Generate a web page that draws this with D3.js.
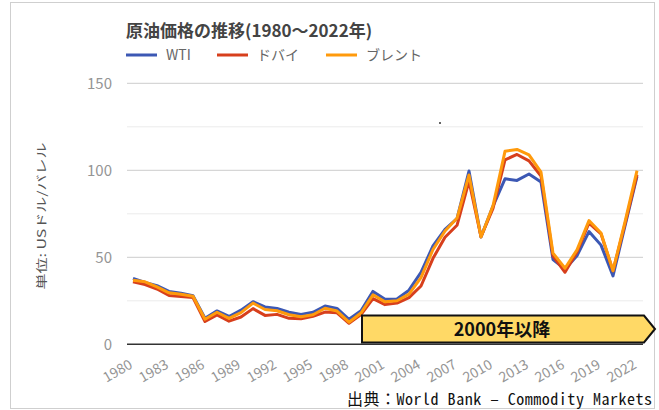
<!DOCTYPE html>
<html>
<head>
<meta charset="utf-8">
<script src="https://cdn.jsdelivr.net/npm/d3@7"></script>
<style>
  body { margin: 0; background: #fff; }
  svg { display: block; }
</style>
</head>
<body>
<div id="chart"></div>
<script>
// ---- data (USD / barrel, annual average) ----
var years = d3.range(1980, 2023);
var seriesNames = ["WTI", "ドバイ", "ブレント"];
var tickYears = [1980, 1983, 1986, 1989, 1992, 1995, 1998, 2001, 2004, 2007, 2010, 2013, 2016, 2019, 2022];
var yTicks = [0, 50, 100, 150];
var yMinor = [25, 75, 125];

var wti = [37.9, 35.5, 33.7, 30.4, 29.4, 27.9, 15.0, 19.2, 16.0, 19.6, 24.5, 21.5, 20.6, 18.4, 17.2, 18.4, 22.0, 20.6, 14.4, 19.3,
  30.4, 25.9, 26.1, 31.1, 41.4, 56.5, 66.1, 72.3, 99.6, 61.7, 79.4, 95.1, 94.2, 97.9, 93.3, 48.7, 43.2, 50.9, 64.8, 57.0, 39.3, 68.0, 96.5];
var dubai = [35.9, 34.3, 31.8, 28.1, 27.5, 26.9, 13.1, 16.9, 13.3, 15.7, 20.5, 16.6, 17.2, 14.9, 14.7, 16.1, 18.5, 18.1, 12.1, 17.1,
  26.2, 22.8, 23.7, 26.8, 33.5, 49.4, 61.5, 68.4, 93.8, 61.8, 78.1, 106.0, 109.1, 105.4, 96.7, 50.8, 41.4, 53.1, 69.7, 63.5, 42.2, 69.2, 97.5];
var brent = [36.8, 35.9, 33.0, 29.6, 28.8, 27.6, 14.4, 18.4, 14.9, 18.2, 23.7, 20.0, 19.3, 17.0, 15.8, 17.0, 20.7, 19.1, 12.7, 18.0,
  28.5, 24.4, 25.0, 28.8, 38.3, 54.5, 65.1, 72.4, 97.3, 61.7, 79.6, 110.9, 112.0, 108.9, 98.9, 52.4, 43.7, 54.3, 71.1, 64.0, 42.3, 70.4, 99.8];

var colors = ["#3c58b4", "#d73f1c", "#ff9a0c"];

/* -----------------------
layout
------------------------- */
var width = 659, height = 410;
var plotL = 127, plotR = 643, plotT = 83.3, plotB = 344.3;

var svg = d3.select("#chart").append("svg")
  .attr("width", width)
  .attr("height", height);

var font = "'Noto Sans CJK JP', 'Noto Sans', sans-serif";

// frame
svg.append("rect")
  .attr("x", 10.5).attr("y", 2.5)
  .attr("width", 644).attr("height", 406)
  .attr("fill", "#fff")
  .attr("stroke", "#cfcfcf");

var x = d3.scalePoint().domain(years).range([plotL, plotR]).padding(0.5);
var y = d3.scaleLinear().domain([0, 150]).range([plotB, plotT]);

// grid
svg.append("g").selectAll("line").data(yMinor).join("line")
  .attr("x1", plotL).attr("x2", plotR)
  .attr("y1", d => y(d)).attr("y2", d => y(d))
  .attr("stroke", "#ececec").attr("stroke-width", 1);

svg.append("g").selectAll("line").data(yTicks.filter(d => d > 0)).join("line")
  .attr("x1", plotL).attr("x2", plotR)
  .attr("y1", d => y(d)).attr("y2", d => y(d))
  .attr("stroke", "#cccccc").attr("stroke-width", 1);

// y axis labels
var yAxis = svg.append("g")
  .attr("transform", "translate(" + plotL + ",0)")
  .call(d3.axisLeft(y).tickValues(yTicks).tickSize(0).tickPadding(15));
yAxis.select(".domain").remove();
yAxis.selectAll("text")
  .attr("font-family", font)
  .attr("font-size", 15)
  .attr("fill", "#959595");

// x axis labels
var xAxis = svg.append("g")
  .attr("transform", "translate(0," + plotB + ")")
  .call(d3.axisBottom(x).tickValues(tickYears).tickSize(0));
xAxis.select(".domain").remove();
xAxis.selectAll("text")
  .attr("font-family", font)
  .attr("font-size", 14)
  .attr("fill", "#959595")
  .attr("dy", null)
  .attr("y", null)
  .style("text-anchor", "end")
  .attr("transform", "translate(0,23) rotate(-30)");

// baseline
svg.append("line")
  .attr("x1", plotL).attr("x2", plotR)
  .attr("y1", y(0)).attr("y2", y(0))
  .attr("stroke", "#333").attr("stroke-width", 1.5);

// lines
var line = d3.line()
  .x((d, i) => x(years[i]))
  .y(d => y(d));

[wti, dubai, brent].forEach(function(s, k) {
  svg.append("path")
    .datum(s)
    .attr("d", line)
    .attr("fill", "none")
    .attr("stroke", colors[k])
    .attr("stroke-width", 3)
    .attr("stroke-linejoin", "round");
});

// title
svg.append("text")
  .attr("x", 126).attr("y", 37)
  .attr("font-family", font)
  .attr("font-size", 17)
  .attr("font-weight", "bold")
  .attr("fill", "#444")
  .text("原油価格の推移(1980〜2022年)");

// legend
var legX = [126, 217, 326];
var leg = svg.append("g").selectAll("g").data(seriesNames).join("g")
  .attr("transform", (d, i) => "translate(" + legX[i] + ",55)");
leg.append("line")
  .attr("x1", 0).attr("x2", 31)
  .attr("stroke", (d, i) => colors[i])
  .attr("stroke-width", 3);
leg.append("text")
  .attr("x", 40).attr("y", 5)
  .attr("font-family", font)
  .attr("font-size", 14)
  .attr("fill", "#666")
  .text(d => d);

// y title (narrow glyphs as in the source image)
svg.append("text")
  .attr("transform", "translate(46,216) rotate(-90) scale(1,0.72)")
  .attr("text-anchor", "middle")
  .attr("font-family", font)
  .attr("font-size", 16)
  .attr("fill", "#555")
  .text("単位: USドル/バレル");

// stray dot
svg.append("circle").attr("cx", 440).attr("cy", 123).attr("r", 1).attr("fill", "#333");

// 2000年以降 arrow
var ax0 = x(2000) - 11, ax1 = 644, aTip = 655, aT = 315.5, aB = 342.5;
svg.append("path")
  .attr("d", "M" + ax0 + "," + aT + "L" + ax1 + "," + aT + "L" + aTip + "," + ((aT + aB) / 2) +
    "L" + ax1 + "," + aB + "L" + ax0 + "," + aB + "Z")
  .attr("fill", "#ffd966")
  .attr("stroke", "#111")
  .attr("stroke-width", 2);
svg.append("text")
  .attr("x", 502).attr("y", 336)
  .attr("text-anchor", "middle")
  .attr("font-family", font)
  .attr("font-size", 18)
  .attr("font-weight", "bold")
  .attr("fill", "#111")
  .text("2000年以降");

// source
svg.append("text")
  .attr("x", 347).attr("y", 405)
  .attr("font-family", "'Noto Sans Mono CJK JP', 'DejaVu Sans Mono', monospace")
  .attr("font-size", 16)
  .attr("fill", "#111")
  .attr("textLength", 305)
  .text("出典：World Bank – Commodity Markets");
</script>
</body>
</html>
